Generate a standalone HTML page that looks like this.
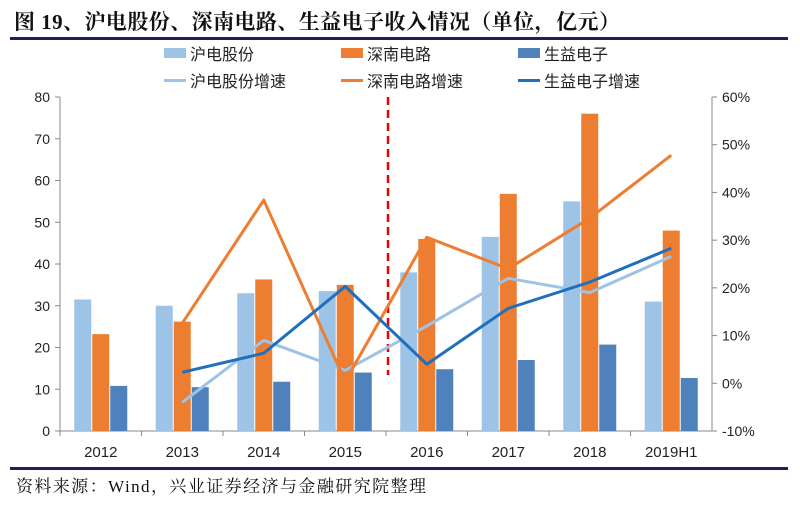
<!DOCTYPE html>
<html><head><meta charset="utf-8"><style>
body{margin:0;background:#fff;width:800px;height:510px;overflow:hidden;font-family:"Liberation Sans","Noto Sans CJK SC",sans-serif}
svg text{font-family:"Liberation Sans","Noto Sans CJK SC",sans-serif}
</style></head><body>
<svg id="c" width="800" height="510">
<text x="14" y="29" font-size="21" font-weight="bold" fill="#111" textLength="606" style="font-family:'Liberation Serif','Noto Serif CJK SC',serif">图 19、沪电股份、深南电路、生益电子收入情况（单位，亿元）</text>
<rect x="10" y="37" width="778" height="3" fill="#1f1f5c"/>
<rect x="10" y="467" width="778" height="3" fill="#1f1f5c"/>
<text x="16" y="492" font-size="17" fill="#111" textLength="410" style="font-family:'Liberation Serif','Noto Serif CJK SC',serif">资料来源：Wind，兴业证券经济与金融研究院整理</text>
<g id="legend" font-size="16" fill="#222">
<rect x="164" y="48" width="22" height="10" fill="#9dc3e6"/><text x="190" y="60">沪电股份</text>
<rect x="341" y="48" width="22" height="10" fill="#ed7d31"/><text x="367" y="60">深南电路</text>
<rect x="518" y="48" width="22" height="10" fill="#4f81bd"/><text x="544" y="60">生益电子</text>
<rect x="164" y="79" width="22" height="3" fill="#9dc3e6"/><text x="190" y="87">沪电股份增速</text>
<rect x="341" y="79" width="22" height="3" fill="#ed7d31"/><text x="367" y="87">深南电路增速</text>
<rect x="518" y="79" width="22" height="3" fill="#1f6fbf"/><text x="544" y="87">生益电子增速</text>
</g>
<g id="plot"></g>
</svg>
<script>
const categories=["2012","2013","2014","2015","2016","2017","2018","2019H1"];
const hudian=[31.5,30,33,33.5,38,46.5,55,31];
const shennan=[23.2,26.2,36.3,35,46,56.8,76,48];
const shengyi=[10.8,10.5,11.8,14,14.8,17,20.7,12.7];
const hudianG=[null,-4,9,2.7,12,22,19,26.6];
const shennanG=[null,12.6,38.4,0.4,30.6,24,34.6,47.8];
const shengyiG=[null,2.3,6.3,20.3,4,15.7,21.2,28.3];
const leftTicks=[0,10,20,30,40,50,60,70,80];
const rightTicks=[-10,0,10,20,30,40,50,60];
const NS="http://www.w3.org/2000/svg",g=document.getElementById('plot');
const x0=60,x1=712,yT=97,yB=431,step=(x1-x0)/categories.length;
const yL=v=>yB-(v/80)*(yB-yT);
const yR=v=>yB-((v+10)/70)*(yB-yT);
const cx=i=>x0+step*(i+0.5);
function el(t,a){const e=document.createElementNS(NS,t);for(const k in a)e.setAttribute(k,a[k]);g.appendChild(e);return e;}
let ax=el('line',{x1:x0,y1:yT,x2:x0,y2:yB,stroke:'#888'});

let bx=el('line',{x1:x0,y1:yB,x2:x1,y2:yB,stroke:'#888'});

let rx=el('line',{x1:x1,y1:yT,x2:x1,y2:yB,stroke:'#888'});

leftTicks.forEach(v=>{el('line',{x1:x0-5,y1:yL(v),x2:x0,y2:yL(v),stroke:'#888'});
const t=el('text',{x:x0-10,y:yL(v)+5,'font-size':14,'text-anchor':'end',fill:'#222'});t.textContent=v;
});
rightTicks.forEach(v=>{el('line',{x1:x1,y1:yR(v),x2:x1+5,y2:yR(v),stroke:'#888'});
const t=el('text',{x:x1+10,y:yR(v)+5,'font-size':14,fill:'#222'});t.textContent=v+'%';
});
categories.forEach((c,i)=>{el('line',{x1:x0+step*i,y1:yB,x2:x0+step*i,y2:yB+5,stroke:'#888'});
const t=el('text',{x:cx(i),y:yB+26,'font-size':15,'text-anchor':'middle',fill:'#222'});t.textContent=c;
});
const bw=17;
[[hudian,'#9dc3e6',-18],[shennan,'#ed7d31',0],[shengyi,'#4f81bd',18]].forEach(([arr,col,off])=>{
arr.forEach((v,i)=>{const r=el('rect',{x:cx(i)+off-bw/2,y:yL(v),width:bw,height:yB-yL(v),fill:col});
});});
const dl=el('line',{x1:388,y1:yT,x2:388,y2:375,stroke:'#e00',"stroke-width":2.5,"stroke-dasharray":"8,5"});

[[hudianG,'#9dc3e6'],[shennanG,'#ed7d31'],[shengyiG,'#1f6fbf']].forEach(([arr,col])=>{
const pts=arr.map((v,i)=>v==null?null:cx(i)+','+yR(v)).filter(p=>p).join(' ');
const p=el('polyline',{points:pts,fill:'none',stroke:col,'stroke-width':3,'stroke-linejoin':'round'});
});
</script>
</body></html>
